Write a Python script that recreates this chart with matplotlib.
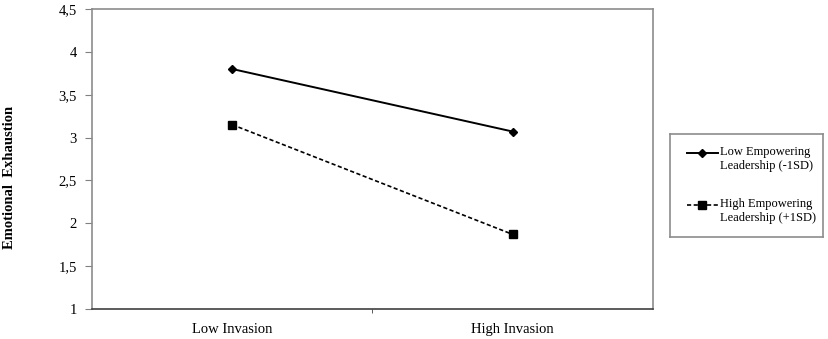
import numpy as np
import matplotlib
matplotlib.use("Agg")
import matplotlib.pyplot as plt

categories = ["Low Invasion", "High Invasion"]
low_emp = [3.80, 3.07]
high_emp = [3.15, 1.87]
series_labels = ["Low Empowering\nLeadership (-1SD)", "High Empowering\nLeadership (+1SD)"]
yticks = [1, 1.5, 2, 2.5, 3, 3.5, 4, 4.5]
ytick_labels = ["1", "1,5", "2", "2,5", "3", "3,5", "4", "4,5"]

plt.rcParams['font.family'] = ['Liberation Serif', 'DejaVu Serif']

fig = plt.figure(figsize=(8.29, 3.39), dpi=100)
ax = fig.add_axes([92/829, 30/339, 561/829, 300/339])

styles = [dict(lw=1.4, ls="-", marker="D", ms=4.5),
          dict(lw=1.2, ls=(0, (2.5, 1.5)), marker="s", ms=6)]

x = np.arange(len(categories)) + 0.5
for vals, st in zip([low_emp, high_emp], styles):
    ax.plot(x, vals, color="black", **st)

ax.set_xlim(0, 2)
ax.set_ylim(1, 4.5)
ax.set_yticks(yticks)
ax.set_yticklabels(ytick_labels, fontsize=10.5)
ax.set_xticks(x)
ax.set_xticklabels(categories, fontsize=10.5)
ax.tick_params(axis="x", length=0, pad=10)
ax.set_xticks([1], minor=True)
ax.tick_params(axis="x", which="minor", length=3, color="#404040")
ax.tick_params(axis="y", length=5, pad=6, color="#808080")

for s in ["top", "right", "left"]:
    ax.spines[s].set_color("#8c8c8c")
    ax.spines[s].set_linewidth(1.2)
ax.spines["bottom"].set_color("#404040")
ax.spines["bottom"].set_linewidth(1.2)

fig.text(10/829, 1 - 177/339, "Emotional  Exhaustion", rotation=90, fontsize=10.5,
         fontweight="bold", ha="center", va="center")

# legend box drawn by hand so the key sits on the first text line
lax = fig.add_axes([670/829, 1 - 237/339, 153/829, 103/339])
lax.set_xlim(0, 153)
lax.set_ylim(103, 0)
lax.set_xticks([])
lax.set_yticks([])
for s in lax.spines.values():
    s.set_color("#8c8c8c")
    s.set_linewidth(1.2)
for i, (lab, st) in enumerate(zip(series_labels, styles)):
    yy = 19 + i * 52
    lax.plot([17, 48], [yy, yy], color="black", lw=st["lw"], ls=st["ls"])
    lax.plot([32], [yy], color="black", marker=st["marker"], ms=st["ms"], ls="none")
    lax.text(50, yy - 7, lab, fontsize=9, va="top", ha="left", linespacing=1.25)

fig.savefig("out.png", dpi=100)
